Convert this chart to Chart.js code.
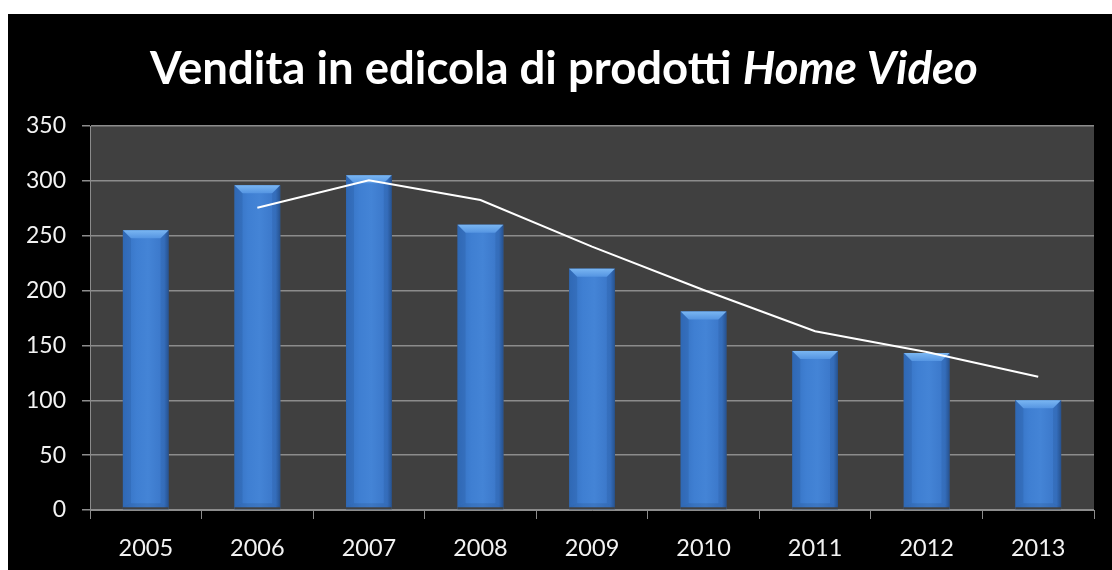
<!DOCTYPE html>
<html>
<head>
<meta charset="utf-8">
<script src="https://cdn.jsdelivr.net/npm/chart.js"></script>
<style>
  body { margin: 0; background: #fff; }
  #box { position: absolute; left: 8px; top: 14px; width: 1104px; height: 556px; background: #000; }
</style>
</head>
<body>
<div id="box"><canvas id="grafico" width="1104" height="556"></canvas></div>
<script>
const anni = ['2005', '2006', '2007', '2008', '2009', '2010', '2011', '2012', '2013'];
const vendite = [255, 296, 305, 260, 220, 181, 145, 143, 100];
// media mobile a 2 periodi
const mediaMobile = [null, 275.5, 300.5, 282.5, 240, 200.5, 163, 144, 121.5];
const assePassi = 50;
const asseMax = 350;

const fontBase = 'Lato, "Open Sans", sans-serif';

// titolo con la parte finale in corsivo
const titoloPlugin = {
  id: 'titolo',
  afterDraw(chart) {
    const ctx = chart.ctx;
    const parte1 = 'Vendita in edicola di prodotti ';
    const parte2 = 'Home Video';
    const f1 = 'bold 45.5px ' + fontBase;
    const f2 = 'italic bold 45.5px ' + fontBase;
    ctx.save();
    ctx.font = f1;
    const w1 = ctx.measureText(parte1).width;
    ctx.font = f2;
    const w2 = ctx.measureText(parte2).width;
    let x = 556 - (w1 + w2) / 2;
    const y = 55;
    ctx.fillStyle = '#fff';
    ctx.textBaseline = 'middle';
    ctx.font = f1;
    ctx.fillText(parte1, x, y);
    ctx.font = f2;
    ctx.fillText(parte2, x + w1, y);
    ctx.restore();
  }
};

// sfondo grigio dell'area del grafico
const sfondoPlugin = {
  id: 'sfondo',
  beforeDraw(chart) {
    const a = chart.chartArea;
    const ctx = chart.ctx;
    ctx.save();
    ctx.fillStyle = '#404040';
    ctx.fillRect(a.left, a.top, a.right - a.left, a.bottom - a.top);
    ctx.restore();
  }
};

// effetto smussato sulle barre
const smussoPlugin = {
  id: 'smusso',
  afterDatasetDraw(chart, args) {
    if (args.index !== 0) return;
    const ctx = chart.ctx;
    const b = 8;
    args.meta.data.forEach(bar => {
      const L = bar.x - bar.width / 2;
      const R = bar.x + bar.width / 2;
      const T = bar.y;
      const B = bar.base - 2;
      ctx.save();
      ctx.fillStyle = '#404040';
      ctx.fillRect(L, T, R - L, bar.base - T);
      const g = ctx.createLinearGradient(L, 0, R, 0);
      g.addColorStop(0, '#3470c0');
      g.addColorStop(0.3, '#3f7fd2');
      g.addColorStop(0.55, '#4484d6');
      g.addColorStop(0.9, '#3a76c8');
      g.addColorStop(1, '#2a5796');
      ctx.fillStyle = g;
      ctx.fillRect(L, T, R - L, B - T);

      // bordo superiore chiaro
      const gt = ctx.createLinearGradient(0, T, 0, T + b);
      gt.addColorStop(0, '#7ab6f2');
      gt.addColorStop(1, '#5595e2');
      ctx.fillStyle = gt;
      ctx.beginPath();
      ctx.moveTo(L, T);
      ctx.lineTo(R, T);
      ctx.lineTo(R - b, T + b);
      ctx.lineTo(L + b, T + b);
      ctx.closePath();
      ctx.fill();

      // lati appena piu' scuri
      ctx.fillStyle = 'rgba(20, 50, 100, 0.12)';
      ctx.beginPath();
      ctx.moveTo(L, T);
      ctx.lineTo(L + b, T + b);
      ctx.lineTo(L + b, B - 4);
      ctx.lineTo(L, B);
      ctx.closePath();
      ctx.fill();
      ctx.beginPath();
      ctx.moveTo(R, T);
      ctx.lineTo(R - b, T + b);
      ctx.lineTo(R - b, B - 4);
      ctx.lineTo(R, B);
      ctx.closePath();
      ctx.fill();

      // bordo inferiore
      ctx.fillStyle = 'rgba(20, 45, 90, 0.15)';
      ctx.beginPath();
      ctx.moveTo(L, B);
      ctx.lineTo(R, B);
      ctx.lineTo(R - b, B - 4);
      ctx.lineTo(L + b, B - 4);
      ctx.closePath();
      ctx.fill();
      ctx.restore();
    });
  }
};

const ctx = document.getElementById('grafico').getContext('2d');

const grafico = new Chart(ctx, {
  type: 'bar',
  data: {
    labels: anni,
    datasets: [{
      type: 'bar',
      label: 'Vendite',
      data: vendite,
      backgroundColor: '#3b78c8',
      barPercentage: 0.41,
      categoryPercentage: 1,
      order: 2
    }, {
      type: 'line',
      label: 'Media mobile',
      data: mediaMobile,
      borderColor: '#ffffff',
      borderWidth: 2,
      pointRadius: 0,
      tension: 0,
      order: 1
    }]
  },
  options: {
    responsive: false,
    animation: false,
    layout: {
      padding: { top: 112, left: 0, right: 18, bottom: 0 }
    },
    plugins: {
      legend: { display: false },
      tooltip: { enabled: false },
      title: { display: false }
    },
    scales: {
      x: {
        afterFit: scale => { scale.height = 60; },
        grid: {
          display: true,
          drawOnChartArea: false,
          drawTicks: true,
          tickLength: 9,
          color: '#8c8c8c'
        },
        border: { color: '#8c8c8c', width: 1 },
        ticks: {
          color: '#f2f2f2',
          padding: 15,
          font: { family: fontBase, size: 23.5 }
        }
      },
      y: {
        min: 0,
        max: asseMax,
        afterFit: scale => { scale.width = 82; },
        grid: {
          color: '#8c8c8c',
          tickLength: 8,
          lineWidth: 1.5
        },
        border: { color: '#8c8c8c', width: 1 },
        ticks: {
          stepSize: assePassi,
          color: '#f2f2f2',
          padding: 16,
          font: { family: fontBase, size: 23 }
        }
      }
    }
  },
  plugins: [sfondoPlugin, smussoPlugin, titoloPlugin]
});
</script>
</body>
</html>
